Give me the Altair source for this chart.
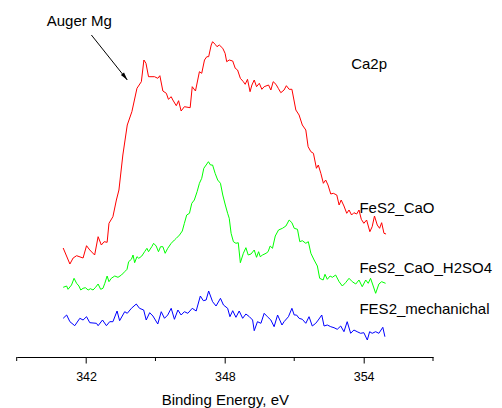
import altair as alt
import pandas as pd

# ---------------- data (binding energy in eV, intensity in arbitrary units) ----------------
series_names = ["FeS2_CaO", "FeS2_CaO_H2SO4", "FES2_mechanichal"]
series_colors = ["#ff0000", "#00ff00", "#0000ff"]

red_ev = [341.01, 341.30, 341.44, 341.59, 341.87, 342.02, 342.16, 342.37, 342.52, 342.66,
          342.78, 342.91, 342.99, 343.16, 343.31, 343.42, 343.59, 343.78, 343.98, 344.20,
          344.39, 344.50, 344.59, 344.70, 344.96, 345.10, 345.19, 345.32, 345.47, 345.56,
          345.68, 345.75, 345.90, 346.00, 346.11, 346.25, 346.50, 346.59, 346.73, 346.90,
          347.00, 347.12, 347.22, 347.30, 347.41, 347.47, 347.58, 347.66, 347.76, 347.91,
          348.01, 348.08, 348.19, 348.34, 348.45, 348.55, 348.67, 348.80, 348.88, 348.98,
          349.09, 349.17, 349.27, 349.37, 349.49, 349.60, 349.70, 349.89, 349.99, 350.09,
          350.21, 350.31, 350.42, 350.56, 350.66, 350.78, 350.90, 351.07, 351.21, 351.35,
          351.50, 351.60, 351.72, 351.83, 351.96, 352.04, 352.15, 352.26, 352.36, 352.46,
          352.58, 352.69, 352.84, 352.94, 353.03, 353.15, 353.27, 353.37, 353.48, 353.58,
          353.70, 353.80, 353.90, 354.01, 354.13, 354.27, 354.37, 354.47, 354.59, 354.69,
          354.78, 354.88, 354.97]
red_int = [109, 93, 99, 101.3, 99, 111.3, 107, 102, 120.3, 112,
           115.3, 114.7, 133.7, 140.3, 157, 167, 202, 232, 245.3, 268.7,
           275.3, 297, 293.7, 280.3, 280.3, 278.7, 281.3, 266, 263.7, 257.7,
           260.3, 257, 251.3, 256.3, 246, 250.3, 249.3, 270.3, 266, 285.3,
           283.7, 297, 300.3, 300.3, 312, 315.3, 312.7, 310.3, 312, 308.7,
           303.7, 295.3, 297, 296, 288.7, 287, 278.7, 275.3, 272.7, 277.7,
           265.3, 272, 277, 270.3, 273.7, 267.7, 270.3, 272, 267, 275.3,
           272.7, 268.7, 264.3, 267, 271.3, 267.7, 267.7, 247, 242, 232,
           227, 210.3, 205.3, 203.7, 188.7, 192, 183.7, 173.7, 177, 172,
           163, 163.7, 162, 152, 157, 151, 143.7, 147, 142, 144.3,
           143, 147, 137.7, 133.7, 137, 125.3, 130.3, 141, 132, 128.7,
           134.3, 123.7, 123]

green_ev = [341.01, 341.16, 341.22, 341.37, 341.48, 341.59, 341.69, 341.77, 341.87, 341.97,
            342.09, 342.19, 342.30, 342.41, 342.52, 342.63, 342.73, 342.81, 342.91, 342.99,
            343.09, 343.24, 343.38, 343.53, 343.67, 343.77, 343.84, 343.96, 344.03, 344.10,
            344.20, 344.28, 344.41, 344.53, 344.63, 344.70, 344.84, 344.92, 345.03, 345.13,
            345.22, 345.32, 345.42, 345.53, 345.68, 345.82, 345.90, 346.04, 346.16, 346.25,
            346.35, 346.47, 346.57, 346.68, 346.80, 346.90, 347.00, 347.09, 347.19, 347.29,
            347.38, 347.47, 347.58, 347.69, 347.81, 347.91, 348.02, 348.12, 348.19, 348.27,
            348.37, 348.48, 348.58, 348.67, 348.80, 348.91, 349.01, 349.13, 349.27, 349.37,
            349.46, 349.53, 349.63, 349.78, 349.87, 349.96, 350.06, 350.18, 350.32, 350.49,
            350.64, 350.78, 350.90, 351.00, 351.14, 351.24, 351.35, 351.50, 351.61, 351.72,
            351.86, 352.00, 352.10, 352.25, 352.33, 352.43, 352.55, 352.65, 352.79, 352.94,
            353.08, 353.22, 353.37, 353.51, 353.66, 353.80, 353.94, 354.09, 354.20, 354.30,
            354.40, 354.52, 354.66, 354.78, 354.95]
green_int = [69.7, 71, 67.7, 72, 78.7, 73.7, 71, 67, 68.7, 69.3,
             67, 68.3, 67, 69.7, 73, 67.7, 68.7, 73.7, 81, 75.3,
             78.7, 81, 79.7, 82, 85.3, 87.7, 95.3, 97.7, 102, 94.3,
             100.3, 98.7, 101, 105.3, 108.7, 105.3, 110.3, 113.7, 111, 105.3,
             110.3, 110.3, 103.7, 108.7, 113.7, 117, 118.7, 122, 126, 133.7,
             142, 143.7, 153.7, 157, 165.3, 173.7, 178.7, 188.7, 192, 195.3,
             192, 192, 183.7, 177, 173.7, 162, 152, 143.7, 138.7, 123.7,
             115.3, 113.7, 114.3, 94.3, 103.7, 109.3, 102, 103, 107, 99.7,
             105.3, 100.3, 102, 103.7, 105.3, 111, 108.7, 121, 127, 128.7,
             131, 137, 134.3, 128.7, 127.7, 115.3, 116.3, 113.7, 115.3, 103.7,
             97, 91, 78.7, 77, 82.7, 77.7, 81, 79.7, 82, 75.3,
             71, 74.3, 78.7, 75.3, 73, 77, 70.3, 77, 73.7, 78.7,
             72, 63.7, 73, 75.3, 73.7]

blue_ev = [341.01, 341.16, 341.30, 341.51, 341.73, 341.87, 342.02, 342.16, 342.45, 342.52,
           342.71, 342.88, 343.02, 343.16, 343.34, 343.45, 343.67, 343.78, 343.96, 344.17,
           344.31, 344.49, 344.60, 344.75, 344.89, 345.10, 345.25, 345.39, 345.53, 345.68,
           345.82, 345.97, 346.11, 346.25, 346.40, 346.59, 346.76, 346.94, 347.07, 347.19,
           347.30, 347.47, 347.62, 347.81, 347.94, 348.12, 348.22, 348.34, 348.48, 348.62,
           348.77, 348.91, 349.06, 349.20, 349.27, 349.41, 349.56, 349.70, 349.84, 349.99,
           350.13, 350.28, 350.47, 350.56, 350.75, 350.90, 351.00, 351.10, 351.21, 351.35,
           351.50, 351.64, 351.78, 351.93, 352.04, 352.19, 352.29, 352.43, 352.58, 352.72,
           352.86, 353.01, 353.15, 353.29, 353.44, 353.58, 353.72, 353.87, 354.01, 354.16,
           354.26, 354.37, 354.52, 354.66, 354.83, 354.92]
blue_int = [38.7, 42, 35.3, 31.3, 38.7, 37, 40.3, 34.3, 33.7, 31.3,
            37, 31.3, 35.3, 35.3, 46, 36.3, 45.3, 43.7, 48.7, 53,
            48.7, 47, 37, 44.3, 41, 33, 45.3, 38.7, 42, 48.7,
            37.7, 47, 42, 45.3, 43.7, 48.7, 46, 61, 56.3, 57,
            66, 55.3, 51, 58.7, 52, 48.7, 40.3, 46.3, 39.7, 46,
            38.7, 43, 40.3, 37, 26.3, 35.3, 33.7, 43.7, 40.3, 37,
            30.3, 42, 32, 35.3, 40.3, 48.7, 42, 42, 38.7, 37.7,
            33.7, 40.3, 31, 33.7, 37, 42, 31, 32, 30.3, 29.3,
            27.7, 31, 25.3, 35.3, 23.7, 27, 25.3, 23.7, 24.3, 17,
            25.3, 23.7, 25.3, 23.7, 29.7, 20.3]

# tick values
major_ticks = [342, 348, 354]
minor_ticks = [339, 345, 351, 357]

# annotations
label_texts = ["Auger Mg", "Ca2p", "FeS2_CaO", "FeS2_CaO_H2SO4", "FES2_mechanichal"]
label_ev = [340.30, 353.46, 353.82, 353.82, 353.82]
label_int = [331, 287.7, 143.7, 84.3, 43]

arrow_ev = [342.23, 343.78]
arrow_int = [322, 277]
arrow_head_ev = [343.68]
arrow_head_int = [280.1]

# ---------------- build tables ----------------
rows = []
for name, xs, ys in zip(series_names, [red_ev, green_ev, blue_ev], [red_int, green_int, blue_int]):
    for x, y in zip(xs, ys):
        rows.append({"series": name, "ev": x, "counts": y})
df = pd.DataFrame(rows)

labels_df = pd.DataFrame({"ev": label_ev, "counts": label_int, "text": label_texts})
arrow_df = pd.DataFrame({"ev": arrow_ev, "counts": arrow_int})
head_df = pd.DataFrame({"ev": arrow_head_ev, "counts": arrow_head_int})
minor_df = pd.DataFrame({"ev": minor_ticks})

FONT = "Liberation Sans"

x_scale = alt.Scale(domain=[339, 357], nice=False, zero=False)
y_scale = alt.Scale(domain=[0, 327], nice=False, zero=False)

x_axis = alt.Axis(
    values=major_ticks, title="Binding Energy, eV", grid=False,
    tickSize=6, tickColor="#000000", tickWidth=1,
    domainColor="#000000", domainWidth=1,
    labelFont=FONT, labelFontSize=12.5, labelColor="#000000", labelPadding=7,
    labelFlush=False,
    titleFont=FONT, titleFontSize=15, titleFontWeight="normal", titleColor="#000000",
    titleBaseline="alphabetic", titleY=47,
)

X = alt.X("ev:Q", scale=x_scale, axis=x_axis)
Y = alt.Y("counts:Q", scale=y_scale, axis=None)

lines = alt.Chart(df).mark_line(strokeWidth=1, clip=False).encode(
    x=X, y=Y,
    color=alt.Color("series:N", scale=alt.Scale(domain=series_names, range=series_colors), legend=None),
)

minor = alt.Chart(minor_df).mark_rule(color="#000000", strokeWidth=1).encode(
    x=X, y=alt.value(327), y2=alt.value(331),
)

texts = alt.Chart(labels_df).mark_text(
    align="left", baseline="alphabetic", font=FONT, fontSize=15, color="#000000"
).encode(x=X, y=Y, text="text:N")

shaft = alt.Chart(arrow_df).mark_line(color="#000000", strokeWidth=1).encode(x=X, y=Y)

head = alt.Chart(head_df).mark_point(
    shape="M0,-1L0.5,1L-0.5,1Z", filled=True, size=64, angle=141.3,
    color="#000000", opacity=1, strokeWidth=0,
).encode(x=X, y=Y)

chart = alt.layer(lines, minor, shaft, head, texts).properties(
    width=416.3, height=327,
    padding={"left": 8.7, "top": 22, "right": 60, "bottom": 51},
    autosize=alt.AutoSizeParams(type="none"),
    background="white",
).configure_view(stroke=None)

chart.save("out.html", embed_options={"renderer": "svg", "actions": False})
